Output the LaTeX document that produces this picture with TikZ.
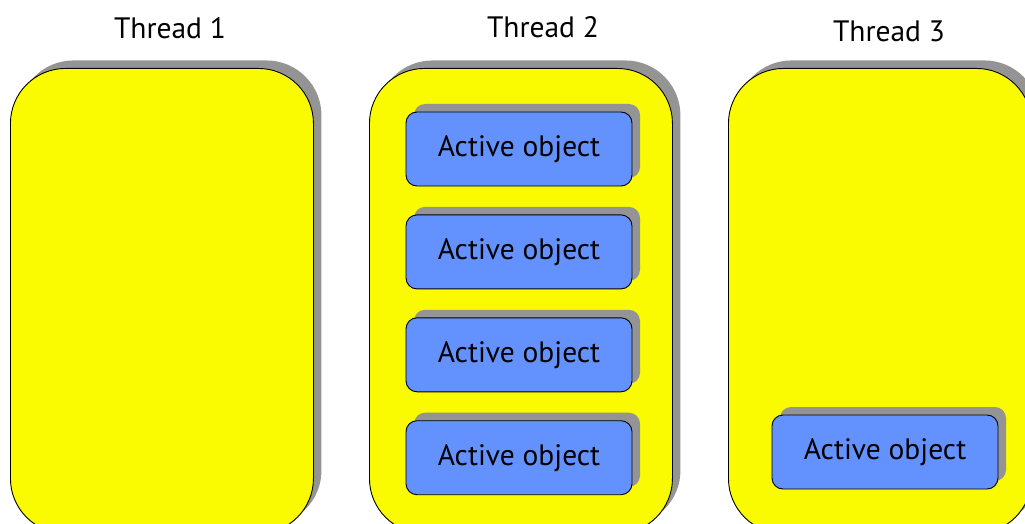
\documentclass[tikz,border=0pt]{standalone}
\usepackage{fontspec}
\setmainfont{PT Sans}
\usetikzlibrary{positioning,shadows}
\definecolor{threadyellow}{RGB}{250,250,0}
\definecolor{aoblue}{RGB}{99,146,255}
\definecolor{shadowgrey}{RGB}{148,148,148}

\begin{document}
\begin{tikzpicture}[x=1pt,y=-1pt,
  thread/.style={draw=black,line width=.9pt,fill=threadyellow,rounded corners=55pt,minimum width=303pt,minimum height=465pt,anchor=north west,inner sep=0pt,general shadow={fill=shadowgrey,shadow xshift=8pt,shadow yshift=8pt}},
  ao/.style={draw=black,line width=.9pt,fill=aoblue,rounded corners=11pt,minimum width=226pt,minimum height=74pt,inner sep=0pt,font=\fontsize{29.5}{34}\selectfont,general shadow={fill=shadowgrey,shadow xshift=8pt,shadow yshift=8pt}},
  lbl/.style={font=\fontsize{29.5}{34}\selectfont},
  node distance=28pt]

\useasboundingbox (0,0) rectangle (1025,524);
\clip (0,0) rectangle (1025,524);

\node[lbl] (lbl1) at(170,28) {Thread 1};
\node[lbl] (lbl2) at(543,27) {Thread 2};
\node[lbl] (lbl3) at(889,31) {Thread 3};

\node[thread] (thread1) at(10,68) {};
\node[thread] (thread2) at(369,68) {};
\node[thread] (thread3) at(728,68) {};

% objects living in thread 2
\node[ao] (ao1) at(519,149) {Active object};
\node[ao,below=of ao1] (ao2) {Active object};
\node[ao,below=of ao2] (ao3) {Active object};
\node[ao,below=of ao3] (ao4) {Active object};

% thread 3 holds a single one
\node[ao] (ao5) at(885,452) {Active object};
\end{tikzpicture}
\end{document}
